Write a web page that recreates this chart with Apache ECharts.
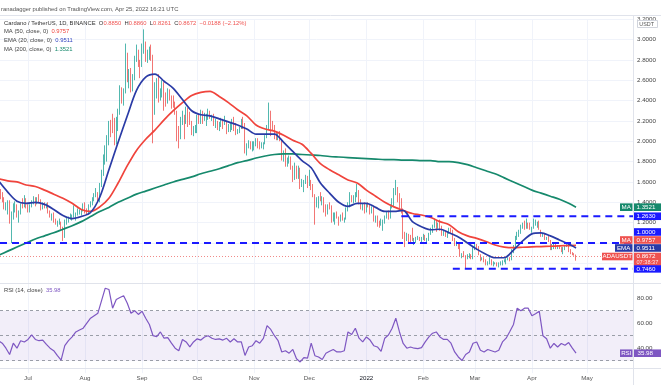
<!DOCTYPE html>
<html><head><meta charset="utf-8">
<script src="https://cdn.jsdelivr.net/npm/echarts@6/dist/echarts.min.js"></script>
<style>html,body{margin:0;padding:0;background:#fff}#c{width:661px;height:385px}</style>
</head><body><div id="c"></div>
<script>
// ---------- DATA ----------
const startDate = '2021-06-15';   // first (partly visible) daily candle
const firstOpen = 1.53;
// daily closes Jun 15 2021 .. Apr 25 2022 (open = previous close)
const closes = [
 1.52,1.45,1.44,1.36,1.37,1.40,1.21,1.26,1.33,1.36,1.28,1.30,1.38,1.36,1.43,1.37,
 1.32,1.37,1.40,1.43,1.40,1.44,1.42,1.36,1.38,1.36,1.38,1.31,1.26,1.28,1.22,1.19,1.20,1.20,1.15,1.07,1.21,1.22,1.25,1.27,1.27,1.29,1.29,1.31,1.31,1.32,1.38,
 1.31,1.30,1.37,1.40,1.43,1.47,1.48,1.42,1.58,1.68,1.82,1.83,2.00,2.19,2.18,2.15,2.00,2.18,2.28,2.46,2.40,2.50,2.86,2.66,2.67,2.53,2.63,2.80,2.86,2.76,2.75,
 2.92,2.93,2.85,2.85,2.89,2.83,2.42,2.52,2.57,2.44,2.49,2.57,2.44,2.39,2.50,2.43,2.39,2.36,2.29,2.09,2.04,2.22,2.23,2.19,2.30,2.25,2.17,2.09,2.10,2.12,
 2.24,2.20,2.28,2.23,2.25,2.25,2.27,2.23,2.23,2.16,2.18,2.16,2.17,2.20,2.19,2.19,2.13,2.13,2.13,2.20,2.14,2.08,2.11,2.13,2.21,2.16,1.93,1.97,1.99,1.97,1.97,
 1.98,2.01,1.98,1.96,1.97,1.98,2.04,2.13,2.27,2.15,2.14,2.07,2.05,2.06,2.01,1.87,1.89,1.79,1.82,1.84,1.74,1.65,1.75,1.66,1.73,1.57,1.58,1.61,1.63,1.57,
 1.60,1.55,1.47,1.41,1.42,1.44,1.43,1.44,1.32,1.29,1.37,1.36,1.24,1.27,1.28,1.25,1.24,1.26,1.23,1.24,1.33,1.37,1.43,1.41,1.44,1.46,1.51,1.41,1.34,1.37,1.31,
 1.38,1.37,1.31,1.34,1.26,1.26,1.19,1.18,1.20,1.21,1.25,1.29,1.25,1.36,1.39,1.52,1.53,1.46,1.40,1.32,1.09,1.04,1.09,1.07,1.04,1.03,1.03,1.05,1.05,1.04,1.05,
 1.07,1.03,1.03,1.09,1.12,1.17,1.19,1.16,1.18,1.15,1.09,1.09,1.07,1.10,1.14,1.12,1.03,0.99,1.00,0.95,0.88,0.88,0.87,0.86,0.87,0.87,0.86,0.95,
 0.97,0.96,0.89,0.84,0.85,0.82,0.79,0.80,0.84,0.79,0.80,0.80,0.78,0.80,0.80,0.82,0.82,0.85,0.85,0.84,0.91,0.95,1.06,1.09,1.10,1.16,1.18,1.15,1.19,1.16,1.14,
 1.15,1.19,1.20,1.20,1.13,1.07,1.08,1.04,1.05,1.02,0.94,0.96,0.98,0.95,0.97,0.95,0.92,0.95,0.97,0.97,0.93,0.91,0.89,0.885,0.8672
];
const highs = [
 1.58,1.53,1.50,1.45,1.40,1.42,1.42,1.31,1.39,1.41,1.38,1.32,1.39,1.44,1.47,1.44,
 1.38,1.38,1.42,1.46,1.45,1.45,1.48,1.43,1.40,1.40,1.39,1.40,1.32,1.29,1.30,1.24,1.22,1.24,1.21,1.16,1.23,1.25,1.26,1.29,1.28,1.37,1.30,1.34,1.33,1.33,1.39,
 1.40,1.34,1.38,1.41,1.45,1.49,1.54,1.50,1.59,1.72,1.87,1.96,2.06,2.20,2.21,2.27,2.23,2.24,2.32,2.55,2.53,2.52,2.96,2.87,2.71,2.72,2.66,2.84,2.95,2.90,2.80,
 2.96,3.10,2.98,2.90,2.93,2.95,2.85,2.58,2.62,2.66,2.52,2.60,2.58,2.48,2.52,2.51,2.45,2.45,2.39,2.30,2.15,2.24,2.30,2.26,2.34,2.33,2.29,2.20,2.15,2.16,
 2.26,2.26,2.31,2.30,2.28,2.27,2.32,2.30,2.26,2.27,2.22,2.20,2.19,2.23,2.22,2.25,2.20,2.17,2.18,2.22,2.24,2.18,2.12,2.14,2.22,2.24,2.18,1.98,2.01,2.00,2.00,
 2.00,2.03,2.03,2.00,1.99,1.99,2.06,2.16,2.38,2.30,2.20,2.16,2.09,2.08,2.10,2.02,1.91,1.93,1.84,1.86,1.85,1.76,1.79,1.76,1.76,1.74,1.63,1.62,1.67,1.66,
 1.72,1.62,1.58,1.48,1.45,1.46,1.50,1.46,1.45,1.38,1.38,1.40,1.37,1.30,1.30,1.31,1.26,1.28,1.30,1.25,1.35,1.40,1.50,1.47,1.47,1.50,1.58,1.52,1.43,1.39,1.40,
 1.39,1.40,1.38,1.36,1.36,1.27,1.27,1.22,1.24,1.23,1.27,1.31,1.32,1.38,1.44,1.54,1.62,1.55,1.49,1.44,1.34,1.11,1.10,1.09,1.08,1.15,1.05,1.06,1.07,1.06,1.06,
 1.09,1.08,1.05,1.10,1.15,1.18,1.24,1.22,1.20,1.23,1.17,1.12,1.11,1.11,1.15,1.15,1.13,1.05,1.02,1.00,1.00,0.90,0.92,0.88,0.89,0.90,0.89,0.96,
 1.00,0.99,0.97,0.89,0.86,0.86,0.84,0.82,0.86,0.84,0.82,0.81,0.81,0.81,0.82,0.83,0.84,0.85,0.86,0.86,0.94,0.98,1.07,1.11,1.13,1.18,1.20,1.22,1.24,1.20,1.20,
 1.16,1.24,1.23,1.21,1.22,1.13,1.10,1.09,1.06,1.07,1.03,0.99,1.00,0.99,0.98,0.97,0.96,0.96,0.98,1.00,1.00,0.94,0.91,0.90,0.886
];
const lows = [
 1.49,1.43,1.40,1.33,1.32,1.28,1.19,1.00,1.23,1.30,1.25,1.20,1.28,1.34,1.35,1.34,
 1.30,1.30,1.35,1.38,1.36,1.38,1.40,1.32,1.33,1.34,1.34,1.29,1.25,1.22,1.20,1.18,1.16,1.18,1.13,1.02,1.05,1.18,1.20,1.23,1.22,1.25,1.22,1.27,1.28,1.27,1.31,
 1.29,1.28,1.28,1.35,1.37,1.41,1.45,1.40,1.40,1.55,1.66,1.77,1.80,1.96,2.04,2.08,1.96,1.97,2.10,2.26,2.37,2.35,2.47,2.58,2.52,2.48,2.49,2.60,2.78,2.73,2.62,
 2.73,2.86,2.78,2.77,2.80,2.79,1.98,2.26,2.42,2.38,2.40,2.43,2.30,2.34,2.37,2.40,2.32,2.33,2.26,2.00,1.93,2.02,2.16,2.02,2.17,2.14,2.16,2.06,2.05,2.08,
 2.08,2.17,2.17,2.17,2.20,2.15,2.21,2.22,2.20,2.15,2.13,2.11,2.10,2.14,2.12,2.16,2.07,2.09,2.09,2.11,2.10,2.06,2.07,2.08,2.12,2.12,1.88,1.86,1.93,1.92,1.90,
 1.91,1.95,1.93,1.92,1.93,1.92,1.97,2.03,2.11,2.05,2.10,2.02,2.01,2.01,2.00,1.81,1.80,1.75,1.75,1.78,1.72,1.60,1.62,1.63,1.63,1.53,1.55,1.50,1.58,1.54,
 1.56,1.52,1.45,1.18,1.35,1.34,1.41,1.37,1.30,1.26,1.28,1.33,1.20,1.21,1.18,1.24,1.17,1.21,1.22,1.20,1.23,1.31,1.35,1.40,1.39,1.40,1.45,1.38,1.33,1.32,1.29,
 1.30,1.35,1.28,1.29,1.21,1.20,1.16,1.15,1.17,1.12,1.19,1.24,1.23,1.24,1.34,1.36,1.47,1.40,1.34,1.29,1.04,0.96,1.02,0.99,1.01,1.02,0.98,1.00,1.03,1.02,1.00,
 1.03,1.02,0.99,1.02,1.08,1.10,1.15,1.11,1.14,1.12,1.07,1.07,1.06,1.05,1.09,1.10,1.02,0.97,0.97,0.94,0.87,0.85,0.86,0.75,0.84,0.85,0.84,0.84,
 0.93,0.93,0.88,0.82,0.83,0.81,0.78,0.78,0.79,0.78,0.77,0.79,0.77,0.76,0.78,0.78,0.81,0.79,0.83,0.82,0.83,0.90,0.94,1.03,1.06,1.09,1.14,1.13,1.14,1.14,1.13,
 1.10,1.14,1.17,1.15,1.13,1.06,1.06,1.03,1.03,1.01,0.93,0.93,0.94,0.94,0.94,0.94,0.91,0.89,0.93,0.96,0.91,0.89,0.88,0.875,0.8261
];
// moving averages, at these day offsets from startDate
const maDays = [0,5,10,15,20,25,30,35,40,45,50,55,60,65,70,75,80,85,90,95,100,105,110,115,120,125,130,135,140,145,150,155,160,165,170,175,180,185,190,195,200,205,210,215,220,225,230,235,240,245,250,255,260,265,270,275,280,285,290,295,300,305,310,314];
const ema20 = [1.61,1.50,1.41,1.39,1.40,1.38,1.33,1.27,1.24,1.26,
 1.30,1.45,1.72,1.99,2.25,2.50,2.63,2.66,2.59,2.52,
 2.41,2.30,2.26,2.25,2.22,2.19,2.16,2.12,2.07,2.07,
 2.07,1.99,1.90,1.81,1.74,1.59,1.49,1.40,1.36,1.39,
 1.39,1.35,1.31,1.31,1.32,1.21,1.16,1.13,1.135,1.10,
 1.06,1.00,0.94,0.89,0.855,0.855,0.93,1.02,1.09,1.10,
 1.07,1.03,0.99,0.9511];
const ma50 = [1.63,1.61,1.60,1.57,1.555,1.52,1.48,1.44,1.39,1.33,
 1.31,1.355,1.44,1.59,1.76,1.91,2.02,2.11,2.21,2.30,
 2.38,2.45,2.48,2.49,2.44,2.38,2.31,2.25,2.16,2.12,
 2.10,2.06,2.01,1.97,1.88,1.78,1.72,1.67,1.62,1.59,
 1.52,1.46,1.40,1.355,1.32,1.29,1.275,1.25,1.21,1.18,
 1.11,1.07,1.045,1.015,0.98,0.96,0.954,0.958,0.962,0.965,
 0.968,0.972,0.975,0.9757];
const ma200 = [0.88,0.92,0.96,1.00,1.04,1.07,1.10,1.135,1.17,1.21,
 1.26,1.31,1.35,1.40,1.44,1.48,1.51,1.54,1.57,1.60,
 1.625,1.65,1.68,1.705,1.73,1.76,1.79,1.81,1.835,1.855,
 1.87,1.875,1.875,1.87,1.865,1.86,1.85,1.845,1.84,1.835,
 1.83,1.825,1.82,1.82,1.815,1.815,1.81,1.81,1.80,1.80,
 1.79,1.77,1.74,1.71,1.68,1.64,1.60,1.56,1.52,1.49,
 1.46,1.43,1.39,1.3521];
// RSI(14) read every 2 days from startDate
const rsiStep = 2;
const rsi = [46,44,40,35,44,40,46,45,47,50.6,
 47,46,46.5,43,40,38,34,30.5,42,46,
 49,53,54.5,56,60,64,66,68,78,88,
 87,72,79,80.5,82,76,68,70,67,69.6,
 64,59,50,49.2,53,48,48.5,44,40,38,
 47,45,41,45,47.5,46.5,49,50,48,47,
 47.5,46.5,47.9,45,47.5,45,45,34.2,41,42,
 46,44,47.9,58,55,50,46,37,38,36,
 39,31.5,29,32.5,32,44,34,33,31,36,
 37.5,39,37,37,38,53,51,56,48,45,
 49,46.5,42,41,37.5,48,50.6,56,64,53,
 43.8,40,41,40,39.7,40.5,45,49,52,53,
 49,47,47,44,37,33,30.2,35,36.9,44,
 45,38.3,37,39,38,37,38.3,45,48,53.3,
 59,72,70,72,72,66,67.5,69.6,50,47.5,
 40,43.8,41,43.8,42.4,44.5,40,35.98];
const monthTicks = ['2021-07-01','2021-08-01','2021-09-01','2021-10-01','2021-11-01','2021-12-01','2022-01-01','2022-02-01','2022-03-01','2022-04-01','2022-05-01'];
const monthLabels = ['Jul','Aug','Sep','Oct','Nov','Dec','2022','Feb','Mar','Apr','May'];
const levelPrices = [1.263, 1.0, 0.746];
const levelStarts = ['2022-01-20', null, '2022-02-17'];   // null = from the left edge
const lastValues = {ma200:1.3521, ma50:0.9757, ema20:0.9511, close:0.8672, rsi:35.98};

// ---------- BUILD ----------
const DAY = 86400000;
const T0 = Date.parse(startDate + 'T00:00:00Z');
const t = d => T0 + d * DAY;
const ts = s => Date.parse(s + 'T00:00:00Z');
const xMin = ts('2021-07-01') - 15.226 * DAY;
const xMax = ts('2021-07-01') + 328.98 * DAY;
const tickTimes = monthTicks.map(ts);

const candles = closes.map((c, i) => {
  const o = i ? closes[i - 1] : firstOpen;
  return [t(i), o, c, Math.min(lows[i], o, c), Math.max(highs[i], o, c)];
});
const lineData = arr => maDays.map((d, k) => [t(d), arr[k]]);
const rsiData = rsi.map((v, k) => [t(Math.min(k * rsiStep, closes.length - 1)), v]);

const UP = '#26a69a', DN = '#ef5350';
const C_MA50 = '#f0443c', C_EMA = '#2a3ba6', C_MA200 = '#16896c', C_LVL = '#1a1aff', C_RSI = '#7e57c2';
const FONT = '"Liberation Sans", Arial, sans-serif';
const FS = 6.2;   // axis / tag text
const FL = 5.85;  // legend / header text

const monthLabelOf = v => {
  let best = -1, bd = Infinity;
  tickTimes.forEach((tt, i) => { const d = Math.abs(tt - v); if (d < bd) { bd = d; best = i; } });
  return bd < DAY ? monthLabels[best] : '';
};

const levelSeries = levelPrices.map((p, i) => ({
  type: 'line', name: 'level' + i, xAxisIndex: 0, yAxisIndex: 0, z: 6, silent: true,
  data: [[levelStarts[i] ? ts(levelStarts[i]) : xMin, p], [xMax, p]],
  showSymbol: false, symbol: 'none',
  lineStyle: {color: C_LVL, width: 2, type: [7, 5]}
}));

const chart = echarts.init(document.getElementById('c'), null, {renderer: 'canvas'});
const option = {
  animation: false,
  backgroundColor: '#ffffff',
  textStyle: {fontFamily: FONT},
  grid: [
    {left: 0, right: 28, top: 19.15, height: 264.55},
    {left: 0, right: 28, top: 273.2, height: 100}
  ],
  xAxis: [
    {type: 'value', gridIndex: 0, min: xMin, max: xMax, scale: true,
     axisLine: {show: false}, axisTick: {show: false, customValues: tickTimes},
     axisLabel: {show: false, customValues: tickTimes},
     splitLine: {show: true, lineStyle: {color: '#f0f3fa', width: 1}}},
    {type: 'value', gridIndex: 1, min: xMin, max: xMax, scale: true,
     axisLine: {show: false}, axisTick: {show: false, customValues: tickTimes},
     axisLabel: {show: true, customValues: tickTimes, margin: 2.5, fontSize: FS, color: '#555', fontFamily: FONT,
       hideOverlap: false,
       formatter: v => { const l = monthLabelOf(v); return l === '2022' ? '{y|2022}' : l; },
       rich: {y: {fontSize: FS, color: '#131722', fontFamily: FONT}}},
     splitLine: {show: true, lineStyle: {color: '#f0f3fa', width: 1}}}
  ],
  yAxis: [
    {type: 'value', gridIndex: 0, position: 'right', min: 0.6, max: 3.2, interval: 0.2,
     axisLine: {show: false}, axisTick: {show: false},
     splitLine: {show: true, lineStyle: {color: '#f0f3fa', width: 1}},
     axisLabel: {margin: 4, fontSize: FS, color: '#444', fontFamily: FONT,
       formatter: v => (['0.6', '0.8', '1.0'].includes(v.toFixed(1)) ? '' : v.toFixed(4))}},
    {type: 'value', gridIndex: 1, position: 'right', min: 20, max: 100, interval: 20,
     axisLine: {show: false}, axisTick: {show: false}, splitLine: {show: false},
     axisLabel: {margin: 4, fontSize: FS, color: '#444', fontFamily: FONT,
       formatter: v => ((v === 40 || v === 60 || v === 80) ? v.toFixed(2) : '')}}
  ],
  series: [
    {type: 'candlestick', xAxisIndex: 0, yAxisIndex: 0, data: candles, encode: {x: 0, y: [1, 2, 3, 4]},
     barWidth: 1, z: 2,
     itemStyle: {color: UP, color0: DN, borderColor: UP, borderColor0: DN, borderWidth: 0.8}},
    {type: 'line', name: 'last', xAxisIndex: 0, yAxisIndex: 0, silent: true, z: 1,
     data: [[xMin, lastValues.close], [xMax, lastValues.close]], showSymbol: false, symbol: 'none',
     lineStyle: {color: '#f08a88', width: 1, type: [1, 2]}},
    {type: 'line', name: 'MA200', xAxisIndex: 0, yAxisIndex: 0, data: lineData(ma200), smooth: 0.3, showSymbol: false,
     lineStyle: {color: C_MA200, width: 1.7}, z: 3},
    {type: 'line', name: 'MA50', xAxisIndex: 0, yAxisIndex: 0, data: lineData(ma50), smooth: 0.3, showSymbol: false,
     lineStyle: {color: C_MA50, width: 1.7}, z: 4},
    {type: 'line', name: 'EMA20', xAxisIndex: 0, yAxisIndex: 0, data: lineData(ema20), smooth: 0.3, showSymbol: false,
     lineStyle: {color: C_EMA, width: 1.7}, z: 5},
    {type: 'line', name: 'RSI', xAxisIndex: 1, yAxisIndex: 1, data: rsiData, showSymbol: false,
     lineStyle: {color: C_RSI, width: 1.2}, z: 5,
     markArea: {silent: true, itemStyle: {color: 'rgba(126,87,194,0.1)'}, data: [[{yAxis: 30}, {yAxis: 70}]]},
     markLine: {silent: true, symbol: 'none', label: {show: false},
       lineStyle: {color: '#9a9ea8', width: 1, type: [3, 3]},
       data: [{yAxis: 70}, {yAxis: 50}, {yAxis: 30}]}}
  ].concat(levelSeries)
};
chart.setOption(option);

// ---------- ANNOTATIONS ----------
const G = [];
const txt = (x, y, text, fill, size) => G.push({type: 'text', z: 120, x: x, y: y,
  style: {text: text, fill: fill, font: (size || FS) + 'px ' + FONT, align: 'left', verticalAlign: 'middle', textAlign: 'left', textVerticalAlign: 'middle'}});
const rect = (x, y, w, h, fill, stroke) => G.push({type: 'rect', z: 110, shape: {x: x, y: y, width: w, height: h},
  style: {fill: fill, stroke: stroke || null, lineWidth: stroke ? 1 : 0}});
const line = (x1, y1, x2, y2, c) => G.push({type: 'line', z: 105, shape: {x1: x1, y1: y1, x2: x2, y2: y2}, style: {stroke: c, lineWidth: 1}});

// pane borders
line(0, 15.5, 661, 15.5, '#e0e3eb');
line(0, 283.5, 661, 283.5, '#e0e3eb');
line(0, 368.5, 661, 368.5, '#e0e3eb');
line(633.5, 15.5, 633.5, 385, '#e0e3eb');

// header and legends
txt(1, 9, 'ranadagger published on TradingView.com, Apr 25, 2022 16:21 UTC', '#555', FL);
G.push({type: 'text', z: 120, x: 4, y: 23, style: {
  text: '{n|Cardano / TetherUS, 1D, BINANCE}  {n|O}{v|0.8850}  {n|H}{v|0.8860}  {n|L}{v|0.8261}  {n|C}{v|0.8672}  {v|\u22120.0188 (\u22122.12%)}',
  font: FL + 'px ' + FONT, verticalAlign: 'middle', textVerticalAlign: 'middle',
  rich: {n: {fill: '#333', color: '#333', fontSize: FL, fontFamily: FONT}, v: {fill: DN, color: DN, fontSize: FL, fontFamily: FONT}}}});
const legendRow = (y, label, val, col) => G.push({type: 'text', z: 120, x: 4, y: y, style: {
  text: '{n|' + label + '}  {v|' + val + '}', font: FL + 'px ' + FONT, verticalAlign: 'middle', textVerticalAlign: 'middle',
  rich: {n: {fill: '#444', color: '#444', fontSize: FL, fontFamily: FONT}, v: {fill: col, color: col, fontSize: FL, fontFamily: FONT}}}});
legendRow(31.8, 'MA (50, close, 0)', lastValues.ma50.toFixed(4), C_MA50);
legendRow(40.4, 'EMA (20, close, 0)', lastValues.ema20.toFixed(4), '#3346c0');
legendRow(49, 'MA (200, close, 0)', lastValues.ma200.toFixed(4), C_MA200);
legendRow(290.5, 'RSI (14, close)', lastValues.rsi.toFixed(2), C_RSI);

// USDT unit box
rect(637.5, 20.5, 20, 7, '#ffffff', '#d1d4dc');
txt(639.3, 24.2, 'USDT', '#555', 5.4);

// right-scale price tags with TradingView-like collision layout
const py = v => chart.convertToPixel({yAxisIndex: 0}, v);
const tags = [
  {v: lastValues.ma200, txt: '1.3521', col: C_MA200, tag: 'MA', tw: 13},
  {v: levelPrices[0], txt: levelPrices[0].toFixed(4), col: C_LVL},
  {v: levelPrices[1], txt: levelPrices[1].toFixed(4), col: C_LVL},
  {v: lastValues.ma50, txt: '0.9757', col: DN, tag: 'MA', tw: 13},
  {v: lastValues.ema20, txt: '0.9511', col: C_EMA, tag: 'EMA', tw: 18},
  {v: lastValues.close, txt: '0.8672', col: DN, tag: 'ADAUSDT', tw: 31, sub: '07:38:37'},
  {v: levelPrices[2], txt: levelPrices[2].toFixed(4), col: C_LVL}
];
tags.sort((a, b) => a.v - b.v);
let prevTop = Infinity;
tags.forEach(tg => {
  const below = tg.sub ? 8 : 4;
  let cy = py(tg.v);
  if (cy + below > prevTop) cy = prevTop - below;
  tg.cy = cy;
  prevTop = cy - 4;
});
tags.forEach(tg => {
  const h = tg.sub ? 12.5 : 7.6;
  rect(634, tg.cy - 3.8, 27, h, tg.col);
  txt(636.5, tg.cy, tg.txt, '#fff');
  if (tg.sub) txt(636.5, tg.cy + 6.2, tg.sub, '#ffe4e4', 5.6);
  if (tg.tag) {
    rect(633 - tg.tw, tg.cy - 3.8, tg.tw - 0.5, 7.6, tg.col);
    G.push({type: 'text', z: 120, x: 633 - tg.tw / 2 - 0.3, y: tg.cy, style: {text: tg.tag, fill: '#fff', font: FS + 'px ' + FONT,
      align: 'center', verticalAlign: 'middle', textAlign: 'center', textVerticalAlign: 'middle'}});
  }
});
// RSI tag
const ry = chart.convertToPixel({yAxisIndex: 1}, lastValues.rsi);
rect(634, ry - 3.8, 27, 7.6, C_RSI);
txt(637.5, ry, lastValues.rsi.toFixed(2), '#fff');
rect(620, ry - 3.8, 12.5, 7.6, C_RSI);
G.push({type: 'text', z: 120, x: 626.3, y: ry, style: {text: 'RSI', fill: '#fff', font: FS + 'px ' + FONT,
  align: 'center', verticalAlign: 'middle', textAlign: 'center', textVerticalAlign: 'middle'}});

chart.setOption({graphic: {elements: G}});
</script></body></html>
